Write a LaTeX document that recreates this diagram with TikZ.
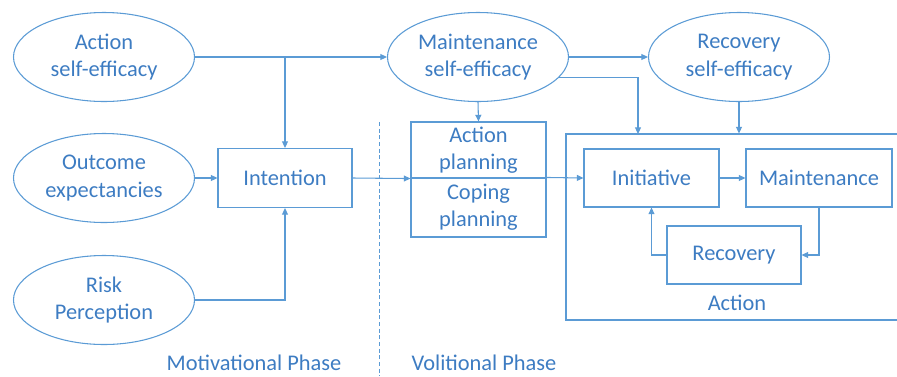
\documentclass[tikz,border=0pt]{standalone}
\usepackage{fontspec}
\setmainfont{Carlito}
\usetikzlibrary{shapes.geometric,arrows.meta}
\definecolor{hapaline}{HTML}{5B9BD5}
\definecolor{hapatext}{HTML}{3D7CC2}
\begin{document}
\begin{tikzpicture}[x=0.75pt,y=-0.75pt,color=hapaline,line width=0.8pt,
    >={Triangle[length=5pt,width=4.5pt]},
    every node/.style={text=hapatext,font=\fontsize{16.8}{20.5}\selectfont,align=center},
    belief/.style={ellipse,draw,minimum width=135.75pt,minimum height=66.75pt,inner sep=0pt},
    stage/.style={rectangle,draw,minimum height=43.5pt,inner sep=0pt}]
    \useasboundingbox (0,0) rectangle (897,376);
    % motivational side
    \node[belief] (asefs) at (104,57) {Action\\self-efficacy};
    \node[belief] (outcome) at (104,178) {Outcome\\expectancies};
    \node[belief] (risk) at (104,300) {Risk\\Perception};
    \node[stage,minimum width=100.5pt,minimum height=44.25pt] (intent) at (285,178) {Intention};
    % volitional side
    \node[belief] (msefs) at (478,57) {Maintenance\\self-efficacy};
    \node[belief] (rsefs) at (739,57) {Recovery\\self-efficacy};
    \node[stage,minimum width=101.25pt,minimum height=42pt] (actplan) at (478.5,150) {Action\\planning};
    \node[stage,minimum width=101.25pt,minimum height=44.25pt] (copplan) at (478.5,207.5) {Coping\\planning};
    \node[draw,minimum width=250.5pt,minimum height=139.5pt,inner sep=0pt] (actbox) at (733,227) {};
    \node (actlabel) at (737,303) {Action};
    \node[stage,minimum width=101.25pt] (initiative) at (651.5,178) {Initiative};
    \node[stage,minimum width=109.5pt] (mainten) at (819,178) {Maintenance};
    \node[stage,minimum width=100.5pt] (recovery) at (734,255) {Recovery};
    \node (motiv) at (254,363) {Motivational Phase};
    \node (volit) at (484,363) {Volitional Phase};
    \coordinate (mdrop) at (638,134);
    \draw[dashed,line width=0.6pt,dash pattern=on 3pt off 2pt] (379,122) -- (379,376);
    % connectors
    \draw[->] (asefs.east) -- (msefs.west);
    \draw[->] (asefs.east -| intent) -- (intent.north);
    \draw[->] (outcome.east) -- (intent.west);
    \draw[->] (risk.east) -| (intent.south);
    \draw[->] (intent.east) -- (actplan.south west);
    \draw[->] (copplan.north east) -- (initiative.west);
    \draw[->] (msefs.south) -- (actplan.north);
    \draw[->] (msefs.east) -- (rsefs.west);
    \draw[->] (msefs.-14) -| (mdrop);
    \draw[->] (rsefs.south) -- (rsefs.south |- actbox.north);
    \draw[->] (initiative.east) -- (mainten.west);
    \draw[->] (mainten.south) |- (recovery.east);
    \draw[->] (recovery.west) -| (initiative.south);
\end{tikzpicture}
\end{document}
